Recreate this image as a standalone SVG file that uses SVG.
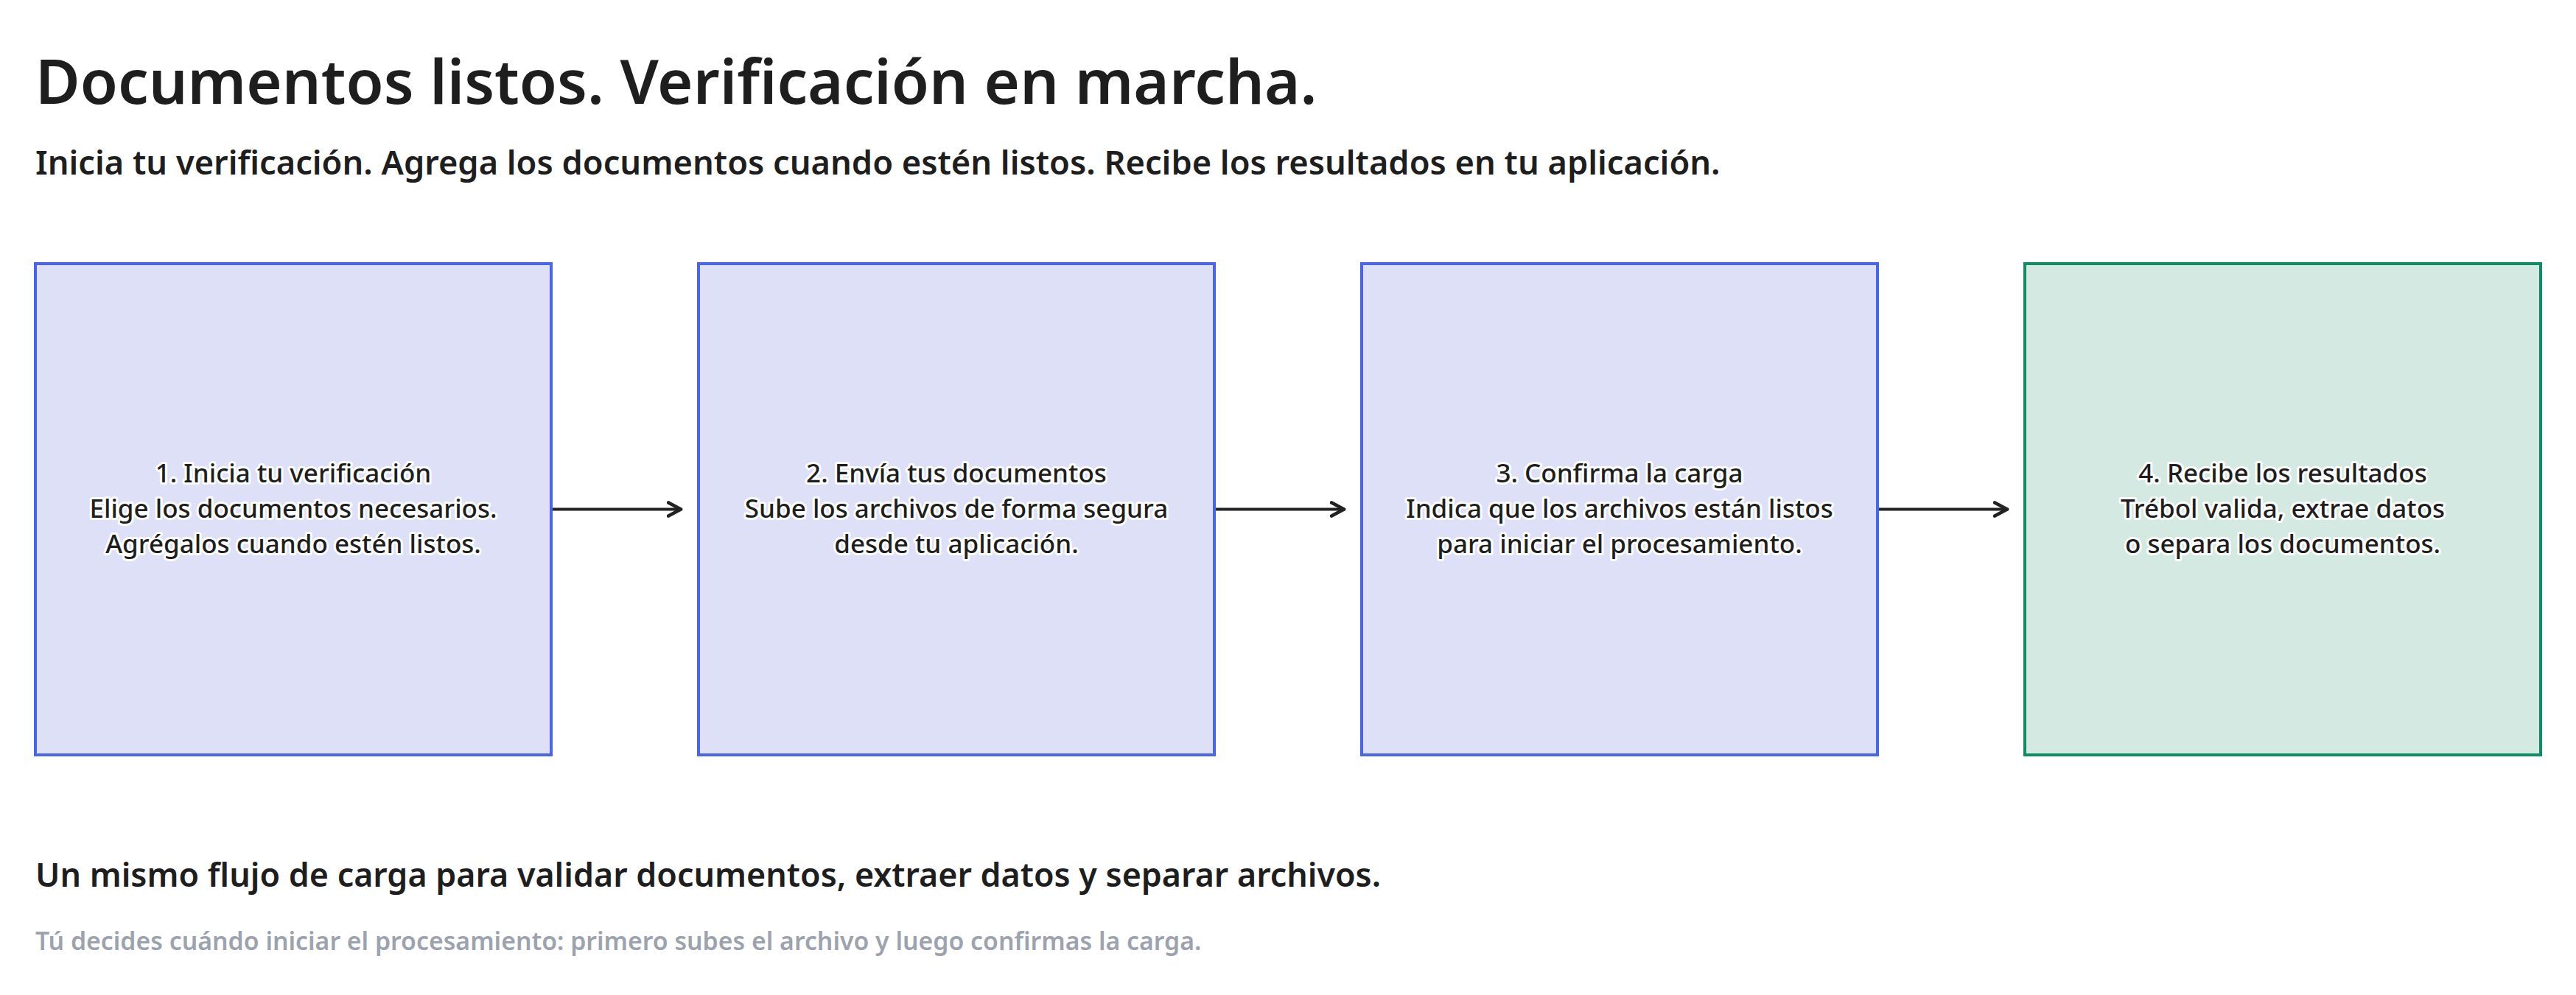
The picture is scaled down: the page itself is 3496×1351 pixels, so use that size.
<svg xmlns="http://www.w3.org/2000/svg" width="3496" height="1351" viewBox="0 0 3496 1351">
<style>
.bg{fill:#ffffff}
.title{font-family:"Noto Sans","Liberation Sans",sans-serif;font-weight:600;font-size:83px;fill:#1e1e1e}
.sub{font-family:"Noto Sans","Liberation Sans",sans-serif;font-weight:600;font-size:45.2px;fill:#1e1e1e}
.sub2{font-family:"Noto Sans","Liberation Sans",sans-serif;font-weight:600;font-size:44.8px;fill:#1e1e1e}
.note{font-family:"Noto Sans","Liberation Sans",sans-serif;font-weight:600;font-size:33.8px;fill:#9ca3af}
.box{fill:#dde0f6;stroke:#4a66e8;stroke-width:4}
.boxg{fill:#d3e9e2;stroke:#0c8d63;stroke-width:4}
.lbl{font-family:"Noto Sans","Liberation Sans",sans-serif;font-weight:500;font-size:35px;fill:#1e1e1e;text-anchor:middle;stroke:#ffffff;stroke-width:6;stroke-linejoin:round;paint-order:stroke}
.edge{fill:none;stroke:#222222;stroke-width:4;stroke-linecap:round;stroke-linejoin:round}
</style>
<defs>
<marker id="arr" markerUnits="userSpaceOnUse" markerWidth="24" markerHeight="24" viewBox="-16 -10 20 20" refX="0" refY="0" orient="auto">
<path d="M-14,-7.5 L0,0 L-14,7.5" fill="none" stroke="#222222" stroke-width="4" stroke-linecap="round" stroke-linejoin="round"/>
</marker>
</defs>
<rect class="bg" x="0" y="0" width="3496" height="1351"/>
<text class="title" x="48" y="141">Documentos listos. Verificación en marcha.</text>
<text class="sub" x="48" y="237">Inicia tu verificación. Agrega los documentos cuando estén listos. Recibe los resultados en tu aplicación.</text>
<g id="connectors">
<path class="edge" d="M748,691.5 L924,691.5" marker-end="url(#arr)"/>
<path class="edge" d="M1648,691.5 L1824,691.5" marker-end="url(#arr)"/>
<path class="edge" d="M2548,691.5 L2724,691.5" marker-end="url(#arr)"/>
</g>
<g id="node1">
<rect class="box" x="48" y="358" width="700" height="667"/>
<text class="lbl" x="398" y="655">1. Inicia tu verificación</text>
<text class="lbl" x="398" y="703">Elige los documentos necesarios.</text>
<text class="lbl" x="398" y="751">Agrégalos cuando estén listos.</text>
</g>
<g id="node2">
<rect class="box" x="948" y="358" width="700" height="667"/>
<text class="lbl" x="1298" y="655">2. Envía tus documentos</text>
<text class="lbl" x="1298" y="703">Sube los archivos de forma segura</text>
<text class="lbl" x="1298" y="751">desde tu aplicación.</text>
</g>
<g id="node3">
<rect class="box" x="1848" y="358" width="700" height="667"/>
<text class="lbl" x="2198" y="655">3. Confirma la carga</text>
<text class="lbl" x="2198" y="703">Indica que los archivos están listos</text>
<text class="lbl" x="2198" y="751">para iniciar el procesamiento.</text>
</g>
<g id="node4">
<rect class="boxg" x="2748" y="358" width="700" height="667"/>
<text class="lbl" x="3098" y="655">4. Recibe los resultados</text>
<text class="lbl" x="3098" y="703">Trébol valida, extrae datos</text>
<text class="lbl" x="3098" y="751">o separa los documentos.</text>
</g>
<text class="sub2" x="48" y="1204">Un mismo flujo de carga para validar documentos, extraer datos y separar archivos.</text>
<text class="note" x="48" y="1290">Tú decides cuándo iniciar el procesamiento: primero subes el archivo y luego confirmas la carga.</text>
</svg>
